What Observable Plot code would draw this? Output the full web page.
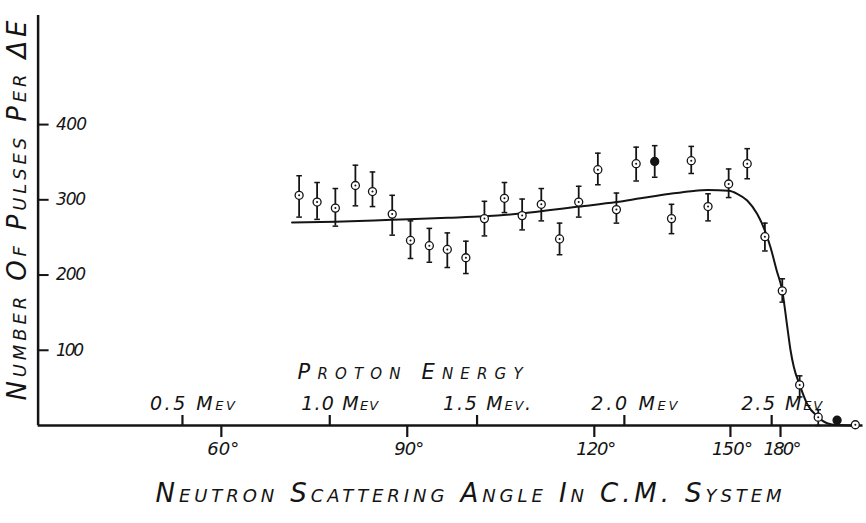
<!DOCTYPE html>
<html><head><meta charset="utf-8">
<script src="https://cdn.jsdelivr.net/npm/d3@7"></script>
<script src="https://cdn.jsdelivr.net/npm/@observablehq/plot@0.6"></script>
<style>
html,body{margin:0;padding:0;background:#fff;}
svg{display:block;}
</style></head><body><div id="chart"></div>
<script>
// Measured points: x = proton energy (MeV), y = number of pulses per ΔE
const energy    = [0.896,0.957,1.019,1.087,1.145,1.212,1.274,1.338,1.399,1.462,1.525,1.593,1.653,1.718,1.780,1.845,1.910,1.973,2.040,2.103,2.160,2.227,2.284,2.354,2.417,2.477,2.536,2.595,2.658,2.722,2.784];
const counts    = [306,297,289,319,311,281,246,239,234,223,275,302,279,294,248,297,340,287,348,351,275,352,291,321,348,251,179,54,11,7,1];
const barTop    = [332,323,315,346,337,306,272,262,256,245,298,323,301,315,269,318,362,309,370,372,294,371,308,341,368,269,195,66,21,null,null];
const barBottom = [277,274,265,292,291,253,222,217,210,202,252,283,260,272,227,277,320,269,325,330,255,335,272,303,328,232,164,38,0,null,null];
const solid     = [false,false,false,false,false,false,false,false,false,false,false,false,false,false,false,false,false,false,false,true,false,false,false,false,false,false,false,false,false,true,false];

// Drawn smooth curve
const fitEnergy = [0.872,1.019,1.212,1.400,1.525,1.653,1.749,1.845,1.973,2.055,2.156,2.227,2.284,2.354,2.383,2.417,2.451,2.477,2.496,2.517,2.536,2.553,2.564,2.575,2.595,2.620,2.658,2.688,2.722,2.784];
const fitCounts = [270,271,273.5,276,278,282,286.5,291,297,302,308,311.5,313,312,308,299,281,259,237,206,179,131,100,78,54,29,11,3,0.5,0];

const yTicks = [100,200,300,400];
const yTickLabels = ["100","200","300","400"];
const energyTicks = [0.5,1.0,1.5,2.0,2.5];
const energyTickLabels = ["0.5 Mev","1.0 Mev","1.5 Mev.","2.0 Mev","2.5 Mev"];
const angleTickEnergy = [0.632,1.263,1.898,2.360,2.530];
const angleTickLabels = ["60°","90°","120°","150°","180°"];

const yTitle = "Number Of Pulses Per ΔE";
const xTitle = "Neutron Scattering Angle In C.M. System";
const energyTitle = "Proton Energy";

const points = energy.map((e,i)=>({e, n: counts[i], top: barTop[i], bottom: barBottom[i], solid: solid[i]}));
const bars = points.filter(d => d.top != null);
const fit = fitEnergy.map((e,i)=>({e, n: fitCounts[i]}));

const W = 866, H = 523, mL = 37.6, mR = 3.5, mT = 15, mB = 98;
const xDomain = [0.01, 2.81];
const plotW = W - mL - mR, plotH = H - mT - mB;
const ink = "#141414";
const font = "DejaVu Sans, sans-serif";
const txt = {fontFamily: font, fontStyle: "italic", fontVariant: "small-caps", fill: ink};

const cap = {draw(ctx, size){ const r = Math.sqrt(size/Math.PI); ctx.moveTo(-r,0); ctx.lineTo(r,0); }};

const chart = Plot.plot({
  width: W, height: H,
  marginLeft: mL, marginRight: mR, marginTop: mT, marginBottom: mB,
  x: {domain: xDomain, axis: null},
  y: {domain: [0, 545], axis: null},
  style: {background: "#fff", color: ink},
  marks: [
    Plot.ruleY([0], {stroke: ink, strokeWidth: 2.5}),
    Plot.ruleX([xDomain[0]], {stroke: ink, strokeWidth: 2.5}),
    Plot.tickY(yTicks, {y: d => d, stroke: ink, strokeWidth: 2, insetRight: plotW - 11}),
    Plot.tickX(energyTicks, {x: d => d, stroke: ink, strokeWidth: 2.2, insetTop: plotH - 10}),
    Plot.tickX(angleTickEnergy, {x: d => d, stroke: ink, strokeWidth: 2.2, insetTop: plotH, insetBottom: -12}),
    Plot.ruleX(bars, {x: "e", y1: "bottom", y2: "top", stroke: ink, strokeWidth: 1.8}),
    Plot.dot(bars, {x: "e", y: "top", symbol: cap, r: 2.8, stroke: ink, strokeWidth: 1.5, fill: "none"}),
    Plot.dot(bars, {x: "e", y: "bottom", symbol: cap, r: 2.8, stroke: ink, strokeWidth: 1.5, fill: "none"}),
    Plot.line(fit, {x: "e", y: "n", curve: "monotone-x", stroke: ink, strokeWidth: 2}),
    Plot.dot(points.filter(d => !d.solid), {x: "e", y: "n", r: 4, fill: "#fff", stroke: ink, strokeWidth: 1.3}),
    Plot.dot(points.filter(d => !d.solid), {x: "e", y: "n", r: 1, fill: ink}),
    Plot.dot(points.filter(d => d.solid), {x: "e", y: "n", r: 4, fill: ink, stroke: ink, strokeWidth: 1.3}),
    Plot.text(yTicks, {y: d => d, text: (d,i) => yTickLabels[i], frameAnchor: "left", dx: 18, textAnchor: "start", fontSize: 17, ...txt}),
    Plot.text(energyTicks, {x: d => d, text: (d,i) => energyTickLabels[i], frameAnchor: "bottom", dy: -16, dx: 10, fontSize: 19, ...txt}),
    Plot.text(angleTickEnergy, {x: d => d, text: (d,i) => angleTickLabels[i], frameAnchor: "bottom", dy: 29, dx: 2, fontSize: 18, ...txt}),
    Plot.text([energyTitle], {text: d => d, frameAnchor: "bottom", textAnchor: "start", dx: -153, dy: -47, fontSize: 21, ...txt}),
    Plot.text([xTitle], {text: d => d, frameAnchor: "bottom", textAnchor: "start", dx: -295, dy: 76, fontSize: 26, ...txt}),
    Plot.text([yTitle], {text: d => d, frameAnchor: "left", rotate: -90, textAnchor: "start", dx: -20, dy: 180, fontSize: 26, ...txt})
  ]
});
document.getElementById("chart").appendChild(chart);
// stretch hand-lettered texts to the widths they take in the reference
const widths = new Map([
  [yTitle, 380], [xTitle, 626], [energyTitle, 225],
  ["0.5 Mev", 85], ["1.0 Mev", 77], ["1.5 Mev.", 88], ["2.0 Mev", 86], ["2.5 Mev", 81],
  ["60°", 32], ["90°", 30], ["120°", 40], ["150°", 41], ["180°", 38],
  ["400", 31], ["300", 30], ["200", 30], ["100", 28]
]);
d3.select(chart).selectAll("text").each(function(){
  const w = widths.get(this.textContent.trim());
  if (w) { this.setAttribute("textLength", w); this.setAttribute("lengthAdjust", "spacing"); }
});
</script></body></html>
